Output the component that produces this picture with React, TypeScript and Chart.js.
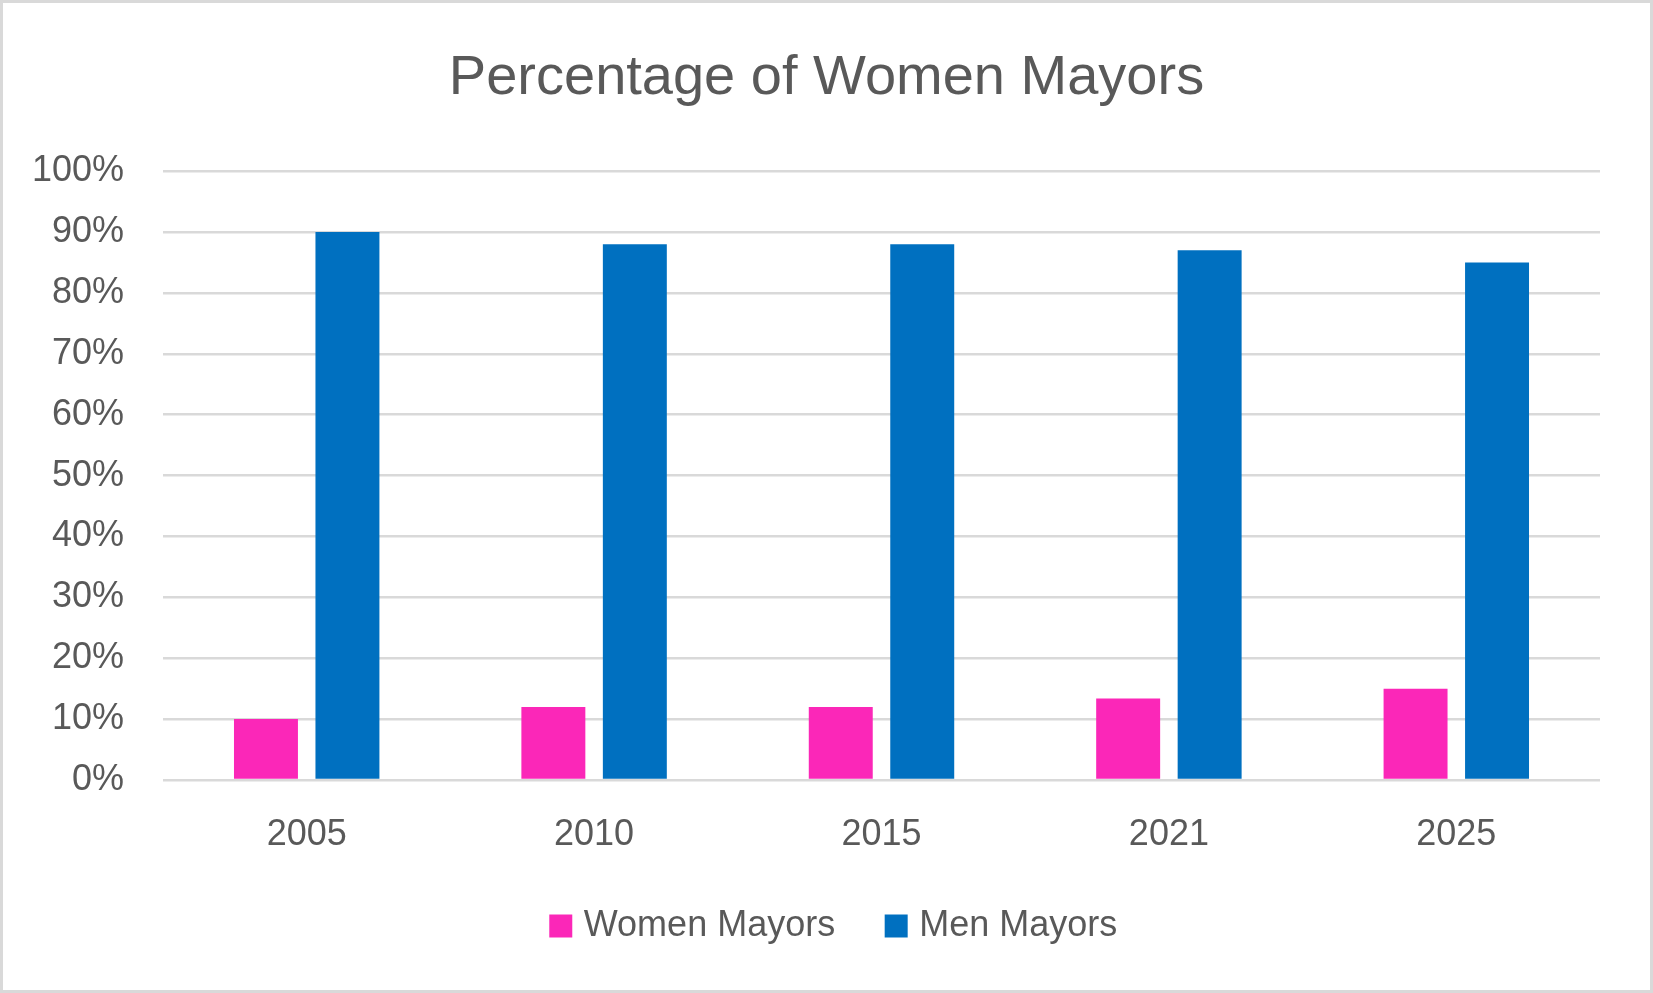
import { useEffect, useRef } from "react";
import { Chart, registerables } from "chart.js";

Chart.register(...registerables);

const chartTitle = "Percentage of Women Mayors";
const years = ["2005", "2010", "2015", "2021", "2025"];
const seriesNames = ["Women Mayors", "Men Mayors"];
const womenMayors = [10, 12, 12, 13.4, 15];
const menMayors = [90, 88, 88, 87, 85];
const seriesColors = ["#FB27B8", "#0070C0"];
const yMin = 0;
const yMax = 100;
const yStep = 10;

const FONT = "'Liberation Sans', Arial, sans-serif";
const TEXT = "#595959";
const GRID = "#D9D9D9";
const LEGEND_SHIFT = 10;

const legendShift = {
  id: "legendShift",
  afterLayout(chart: any) {
    const lg = chart.legend;
    if (lg) {
      lg.left += LEGEND_SHIFT;
      lg.right += LEGEND_SHIFT;
    }
  },
};

export default function App() {
  const ref = useRef<HTMLCanvasElement>(null);

  useEffect(() => {
    document.body.style.margin = "0";
    const canvas = ref.current;
    if (!canvas) return;
    const chart = new Chart(canvas, {
      type: "bar",
      data: {
        labels: years,
        datasets: [
          {
            label: seriesNames[0],
            data: womenMayors,
            backgroundColor: seriesColors[0],
            borderWidth: 0,
            categoryPercentage: 0.567,
            barPercentage: 0.785,
            yAxisID: "y",
          },
          {
            label: seriesNames[1],
            data: menMayors,
            backgroundColor: seriesColors[1],
            borderWidth: 0,
            categoryPercentage: 0.567,
            barPercentage: 0.785,
            yAxisID: "y",
          },
        ],
      },
      options: {
        responsive: false,
        animation: false,
        devicePixelRatio: 1,
        layout: { padding: { top: 0, left: 0, right: 0, bottom: 36 } },
        plugins: {
          title: {
            display: true,
            text: chartTitle,
            color: TEXT,
            font: { family: FONT, size: 56, weight: "normal", lineHeight: 1.2 },
            padding: { top: 42, bottom: 59 },
          },
          legend: {
            display: true,
            position: "bottom",
            labels: {
              color: TEXT,
              font: { family: FONT, size: 36 },
              usePointStyle: true,
              pointStyle: "rect",
              boxWidth: 10,
              boxHeight: 23,
              padding: 56,
            },
          },
          tooltip: { enabled: false },
        },
        scales: {
          x: {
            grid: { display: false, drawTicks: false },
            border: { display: false },
            ticks: {
              color: TEXT,
              font: { family: FONT, size: 36 },
              padding: 33,
              maxRotation: 0,
            },
            afterFit: (scale: any) => {
              scale.height = 72;
            },
          },
          y: {
            position: "left",
            min: yMin,
            max: yMax,
            grid: { color: GRID, lineWidth: 2.5, drawTicks: false },
            border: { display: false },
            ticks: {
              stepSize: yStep,
              color: TEXT,
              font: { family: FONT, size: 36 },
              padding: 39,
              callback: (v: any) => `${v}%`,
            },
            afterFit: (scale: any) => {
              scale.width = 160;
            },
          },
          yRightSpace: {
            type: "linear",
            position: "right",
            display: true,
            grid: { display: false, drawTicks: false },
            border: { display: false },
            ticks: { display: false },
            afterFit: (scale: any) => {
              scale.width = 50;
            },
          },
        },
      },
      plugins: [legendShift],
    });
    return () => chart.destroy();
  }, []);

  return (
    <div
      style={{
        width: 1653,
        height: 993,
        boxSizing: "border-box",
        border: "3px solid #D9D9D9",
        background: "#FFFFFF",
      }}
    >
      <canvas
        ref={ref}
        width={1647}
        height={987}
        style={{ display: "block", width: 1647, height: 987 }}
      />
    </div>
  );
}
